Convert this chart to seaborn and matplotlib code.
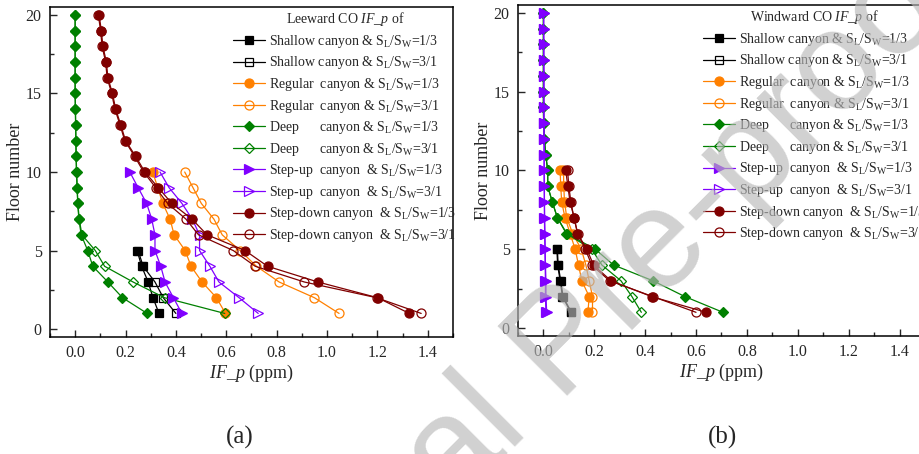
import numpy as np
import pandas as pd
import seaborn as sns
import matplotlib.pyplot as plt
from matplotlib.ticker import MultipleLocator

sns.set_theme(style='ticks')
plt.rcParams['font.family'] = ['Liberation Serif', 'DejaVu Serif']
plt.rcParams['mathtext.fontset'] = 'custom'
plt.rcParams['mathtext.rm'] = 'Liberation Serif'
plt.rcParams['mathtext.it'] = 'Liberation Serif:italic'

floors5 = [1, 2, 3, 4, 5]
floors10 = list(range(1, 11))
floors20 = list(range(1, 21))

# leeward (a)
lee_shallow_13 = [0.333, 0.309, 0.29, 0.264, 0.246]
lee_shallow_31 = [0.40, 0.35, 0.317, 0.27, 0.25]
lee_regular_13 = [0.597, 0.561, 0.504, 0.46, 0.437, 0.393, 0.377, 0.348, 0.328, 0.308]
lee_regular_31 = [1.048, 0.95, 0.81, 0.72, 0.655, 0.584, 0.551, 0.501, 0.468, 0.435]
lee_deep_13 = [0.286, 0.188, 0.13, 0.07, 0.05, 0.024, 0.015, 0.01, 0.008, 0.005,
               0.004, 0.003, 0.002, 0.001, 0.0, 0.0, 0.0, 0.0, 0.0, 0.0]
lee_deep_31 = [0.594, 0.355, 0.23, 0.117, 0.08, 0.027, 0.016, 0.011, 0.008, 0.006,
               0.004, 0.003, 0.002, 0.001, 0.0, 0.0, 0.0, 0.0, 0.0, 0.0]
lee_stepup_13 = [0.424, 0.39, 0.357, 0.34, 0.317, 0.317, 0.304, 0.284, 0.25, 0.217]
lee_stepup_31 = [0.727, 0.651, 0.571, 0.535, 0.494, 0.494, 0.465, 0.424, 0.373, 0.337]
lee_stepdown_13 = [1.327, 1.201, 0.964, 0.764, 0.675, 0.524, 0.464, 0.384, 0.33, 0.277,
                   0.24, 0.2, 0.181, 0.161, 0.148, 0.13, 0.124, 0.11, 0.104, 0.095]
lee_stepdown_31 = [1.374, 1.197, 0.91, 0.715, 0.628, 0.49, 0.44, 0.367, 0.32, 0.272,
                   0.236, 0.197, 0.178, 0.158, 0.145, 0.127, 0.121, 0.107, 0.101, 0.092]

# windward (b)
win_shallow_13 = [0.108, 0.075, 0.066, 0.056, 0.053]
win_shallow_31 = [0.11, 0.077, 0.068, 0.058, 0.055]
win_regular_13 = [0.175, 0.18, 0.151, 0.138, 0.125, 0.105, 0.085, 0.072, 0.068, 0.066]
win_regular_31 = [0.193, 0.193, 0.18, 0.167, 0.149, 0.115, 0.092, 0.083, 0.08, 0.079]
win_deep_13 = [0.706, 0.556, 0.431, 0.276, 0.204, 0.092, 0.055, 0.035, 0.017, 0.017,
               0.009, 0.004, 0.001, 0.0, 0.0, 0.0, 0.0, 0.0, 0.0, 0.0]
win_deep_31 = [0.385, 0.348, 0.305, 0.23, 0.19, 0.09, 0.055, 0.035, 0.017, 0.017,
               0.009, 0.004, 0.001, 0.0, 0.0, 0.0, 0.0, 0.0, 0.0, 0.0]
win_stepup_13 = [0.013, 0.01, 0.01, 0.008, 0.007, 0.006, 0.005, 0.004, 0.004, 0.003,
                 0.003, 0.003, 0.002, 0.002, 0.002, 0.002, 0.002, 0.002, 0.001, 0.001]
win_stepup_31 = [0.01, 0.008, 0.008, 0.007, 0.006, 0.005, 0.004, 0.004, 0.003, 0.003,
                 0.003, 0.002, 0.002, 0.002, 0.002, 0.002, 0.001, 0.001, 0.001, 0.001]
win_stepdown_13 = [0.64, 0.425, 0.266, 0.197, 0.171, 0.134, 0.121, 0.105, 0.096, 0.088]
win_stepdown_31 = [0.6, 0.43, 0.26, 0.19, 0.165, 0.135, 0.12, 0.108, 0.1, 0.095]

labels = [
    r"Shallow canyon & S$_\mathrm{L}$/S$_\mathrm{W}$=1/3",
    r"Shallow canyon & S$_\mathrm{L}$/S$_\mathrm{W}$=3/1",
    r"Regular  canyon & S$_\mathrm{L}$/S$_\mathrm{W}$=1/3",
    r"Regular  canyon & S$_\mathrm{L}$/S$_\mathrm{W}$=3/1",
    r"Deep      canyon & S$_\mathrm{L}$/S$_\mathrm{W}$=1/3",
    r"Deep      canyon & S$_\mathrm{L}$/S$_\mathrm{W}$=3/1",
    r"Step-up  canyon  & S$_\mathrm{L}$/S$_\mathrm{W}$=1/3",
    r"Step-up  canyon  & S$_\mathrm{L}$/S$_\mathrm{W}$=3/1",
    r"Step-down canyon  & S$_\mathrm{L}$/S$_\mathrm{W}$=1/3",
    r"Step-down canyon  & S$_\mathrm{L}$/S$_\mathrm{W}$=3/1",
]
colors = ['black', 'black', '#FF8000', '#FF8000', '#008000', '#008000',
          '#8000FF', '#8000FF', '#800000', '#800000']
markers = ['s', 's', 'o', 'o', 'D', 'D', '>', '>', 'o', 'o']
msizes = [5.5, 5.5, 6.5, 6.5, 5.5, 5.5, 7, 7, 6.5, 6.5]
filled = [True, False] * 5

lee = [(lee_shallow_13, floors5), (lee_shallow_31, floors5),
       (lee_regular_13, floors10), (lee_regular_31, floors10),
       (lee_deep_13, floors20), (lee_deep_31, floors20),
       (lee_stepup_13, floors10), (lee_stepup_31, floors10),
       (lee_stepdown_13, floors20), (lee_stepdown_31, floors20)]
win = [(win_shallow_13, floors5), (win_shallow_31, floors5),
       (win_regular_13, floors10), (win_regular_31, floors10),
       (win_deep_13, floors20), (win_deep_31, floors20),
       (win_stepup_13, floors20), (win_stepup_31, floors20),
       (win_stepdown_13, floors10), (win_stepdown_31, floors10)]

fig = plt.figure(figsize=(9.2, 4.54), dpi=100)
ax1 = fig.add_axes([0.0543, 0.2577, 0.438, 0.727])
ax2 = fig.add_axes([0.563, 0.26, 0.4424, 0.729])


def draw(ax, series, title):
    for i, (vals, fl) in enumerate(series):
        df = pd.DataFrame({'IF_p': vals, 'floor': fl})
        sns.lineplot(data=df, x='IF_p', y='floor', ax=ax, sort=False, estimator=None,
                     color=colors[i], linewidth=0.9, marker=markers[i],
                     markersize=msizes[i],
                     markerfacecolor=colors[i] if filled[i] else 'none',
                     markeredgecolor=colors[i], markeredgewidth=0.9,
                     label=labels[i])
    ax.set_xlim(-0.1, 1.5)
    ax.set_ylim(-0.5, 20.5)
    ax.xaxis.set_major_locator(MultipleLocator(0.2))
    ax.xaxis.set_minor_locator(MultipleLocator(0.1))
    ax.yaxis.set_major_locator(MultipleLocator(5))
    ax.yaxis.set_minor_locator(MultipleLocator(2.5))
    ax.xaxis.set_major_formatter(plt.FuncFormatter(lambda v, p: f"{v:.1f}"))
    ax.tick_params(which='major', direction='in', length=5, width=1, labelsize=11.5, pad=6)
    ax.tick_params(which='minor', direction='in', length=3, width=1)
    for s in ax.spines.values():
        s.set_linewidth(1.1)
        s.set_color('black')
    ax.set_xlabel(r"$\mathit{IF\_p}$ (ppm)", fontsize=13, labelpad=1)
    ax.set_ylabel("Floor number", fontsize=13, labelpad=1)
    ax.legend(loc='upper left', bbox_to_anchor=(0.455, 0.99), frameon=False,
              title=title, fontsize=10, title_fontsize=10, handlelength=2.3,
              handletextpad=0.3, labelspacing=0.33, borderpad=0, borderaxespad=0)


draw(ax1, lee, r"Leeward CO $\mathit{IF\_p}$ of")
draw(ax2, win, r"Windward CO $\mathit{IF\_p}$ of")

fig.text(0.261, 0.037, "(a)", fontsize=18, ha='center', va='center')
fig.text(0.785, 0.037, "(b)", fontsize=18, ha='center', va='center')

fig.text(0.6415, 0.180, "Journal Pre-proof", rotation=45, rotation_mode='anchor',
         ha='center', va='baseline', fontsize=102, family='Liberation Sans',
         color=(0.72, 0.72, 0.72), alpha=0.65, zorder=100)

fig.savefig('out.png', dpi=100)
